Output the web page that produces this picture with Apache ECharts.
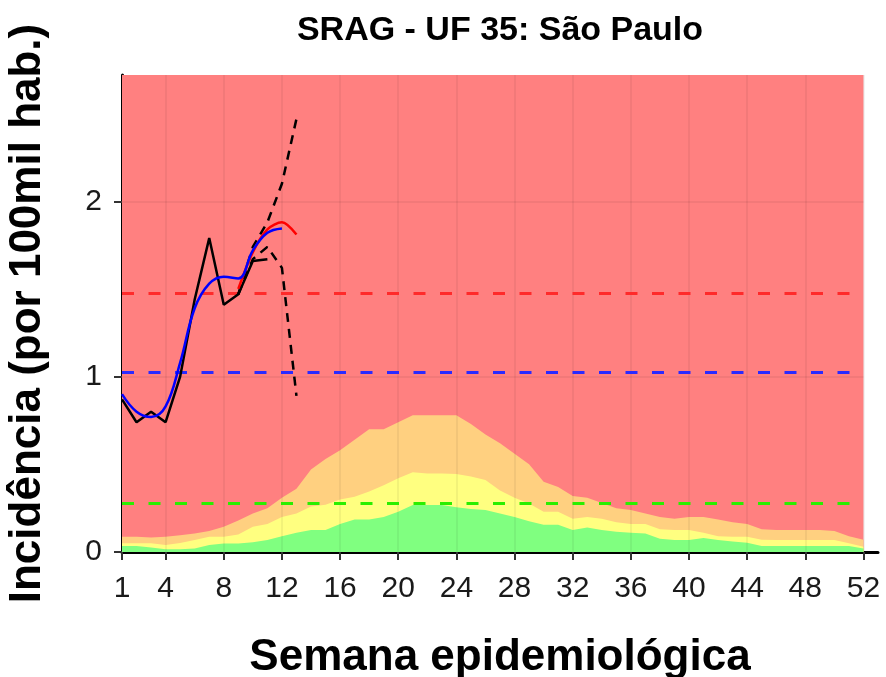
<!DOCTYPE html>
<html>
<head>
<meta charset="utf-8">
<title>SRAG - UF 35: São Paulo</title>
<script src="https://cdn.jsdelivr.net/npm/echarts@6/dist/echarts.min.js"></script>
<style>
  html, body { margin: 0; padding: 0; background: #fff; }
  #chart { width: 886px; height: 677px; }
</style>
</head>
<body>
<div id="chart"></div>
<script>
// eixo x: semanas epidemiológicas
const semanas = Array.from({ length: 52 }, (_, i) => i + 1)
const xTicks = [1, 4, 8, 12, 16, 20, 24, 28, 32, 36, 40, 44, 48, 52]
const yTicks = [0, 1, 2]
const yMax = 2.72

// faixas históricas (limite superior de cada faixa)
const faixaVerde = [
  0.034, 0.034, 0.025, 0.015, 0.015, 0.02, 0.04, 0.049, 0.049, 0.055,
  0.068, 0.09, 0.11, 0.125, 0.125, 0.16, 0.186, 0.186, 0.2, 0.23,
  0.268, 0.268, 0.268, 0.255, 0.245, 0.24, 0.22, 0.2, 0.175, 0.155,
  0.155, 0.125, 0.14, 0.125, 0.115, 0.11, 0.105, 0.075, 0.068, 0.068,
  0.08, 0.068, 0.06, 0.053, 0.034, 0.034, 0.034, 0.034, 0.034, 0.034, 0.034, 0.02
]
const faixaAmarela = [
  0.05, 0.05, 0.05, 0.04, 0.052, 0.068, 0.087, 0.087, 0.1, 0.144,
  0.16, 0.2, 0.22, 0.26, 0.27, 0.3, 0.315, 0.345, 0.38, 0.42,
  0.455, 0.448, 0.448, 0.445, 0.43, 0.41, 0.35, 0.31, 0.277, 0.23,
  0.23, 0.19, 0.2, 0.19, 0.17, 0.16, 0.16, 0.13, 0.125, 0.125,
  0.11, 0.09, 0.087, 0.087, 0.07, 0.068, 0.068, 0.068, 0.068, 0.068, 0.05, 0.03
]
const faixaLaranja = [
  0.087, 0.087, 0.082, 0.087, 0.095, 0.106, 0.12, 0.144, 0.18, 0.22,
  0.25, 0.31, 0.36, 0.47, 0.53, 0.58, 0.64, 0.7, 0.7, 0.74,
  0.78, 0.78, 0.78, 0.78, 0.73, 0.67, 0.62, 0.56, 0.5, 0.4,
  0.37, 0.32, 0.31, 0.28, 0.25, 0.24, 0.22, 0.2, 0.19, 0.2,
  0.2, 0.185, 0.17, 0.16, 0.13, 0.125, 0.125, 0.125, 0.125, 0.12, 0.09, 0.07
]

// limiares
const limiares = [
  { valor: 0.277, cor: '#2aee00' },
  { valor: 1.025, cor: '#2a2aff' },
  { valor: 1.475, cor: '#ff2a2a' }
]

// dados observados (preto)
const semanasObs = [1, 2, 3, 4, 5, 6, 7, 8, 9, 10, 11]
const incidObs = [0.87, 0.74, 0.8, 0.74, 1.0, 1.44, 1.79, 1.41, 1.47, 1.66, 1.67]

// tendência (azul)
const semanasTend = [1, 2, 3, 4, 5, 6, 7, 8, 9, 10, 11, 12]
const incidTend = [0.9, 0.8, 0.77, 0.83, 1.08, 1.39, 1.53, 1.57, 1.56, 1.72, 1.82, 1.845]

// estimado (vermelho) e intervalo (tracejado)
const semanasEst = [9, 10, 11, 12, 13]
const incidEst = [1.5, 1.71, 1.84, 1.88, 1.81]
const icSup = [1.47, 1.74, 1.88, 2.1, 2.47]
const icInf = [1.47, 1.67, 1.74, 1.62, 0.89]

const pares = (xs, ys) => xs.map((x, i) => [x, ys[i]])

const fonte = 'Liberation Sans, Arial, sans-serif'

const chart = echarts.init(document.getElementById('chart'))

function faixa(nome, valores, cor, z) {
  return {
    name: nome,
    type: 'line',
    data: pares(semanas, valores),
    symbol: 'none',
    lineStyle: { width: 0 },
    areaStyle: { color: cor, opacity: 1 },
    z: z,
    silent: true
  }
}

function linha(nome, xs, ys, cor, tipo, suave, z) {
  return {
    name: nome,
    type: 'line',
    data: pares(xs, ys),
    symbol: 'none',
    smooth: suave,
    lineStyle: { color: cor, width: 2.5, type: tipo },
    z: z,
    silent: true
  }
}

const option = {
  animation: false,
  backgroundColor: '#fff',
  title: {
    text: 'SRAG - UF 35: São Paulo',
    left: 495,
    top: 9,
    textAlign: 'center',
    textStyle: { fontFamily: fonte, fontSize: 34, fontWeight: 'bold', color: '#000' }
  },
  grid: { left: 122, right: 8, top: 75, bottom: 125, outerBoundsMode: 'none' },
  xAxis: {
    type: 'value',
    min: 1,
    max: 53,
    name: 'Semana epidemiológica',
    nameLocation: 'middle',
    nameGap: 84,
    nameTextStyle: { fontFamily: fonte, fontSize: 44, fontWeight: 'bold', color: '#000' },
    axisLine: { lineStyle: { color: '#000', width: 3 } },
    axisTick: { customValues: xTicks, length: 8, lineStyle: { color: '#333', width: 2 } },
    axisLabel: { customValues: xTicks, fontFamily: fonte, fontSize: 30, color: '#1a1a1a', margin: 22 },
    splitLine: { show: false }
  },
  yAxis: {
    type: 'value',
    min: 0,
    max: yMax,
    name: 'Incidência (por 100mil hab.)',
    nameLocation: 'middle',
    nameGap: 72,
    nameTextStyle: { fontFamily: fonte, fontSize: 44, fontWeight: 'bold', color: '#000' },
    axisLine: { show: true, lineStyle: { color: '#000', width: 3 } },
    axisTick: { show: true, customValues: yTicks, length: 8, lineStyle: { color: '#333', width: 2 } },
    axisLabel: { customValues: yTicks, fontFamily: fonte, fontSize: 30, color: '#1a1a1a', margin: 20 },
    splitLine: { show: false }
  },
  series: [
    {
      name: 'fundo',
      type: 'line',
      data: [],
      z: 1,
      silent: true,
      markArea: {
        silent: true,
        itemStyle: { color: '#ff8080', opacity: 1 },
        data: [[{ xAxis: 1, yAxis: 0 }, { xAxis: 52, yAxis: yMax }]]
      }
    },
    faixa('Alta', faixaLaranja, '#ffd080', 2),
    faixa('Moderada', faixaAmarela, '#ffff80', 3),
    faixa('Baixa', faixaVerde, '#80ff80', 4),
    {
      name: 'grade',
      type: 'line',
      data: [],
      z: 5,
      silent: true,
      markLine: {
        silent: true,
        symbol: 'none',
        label: { show: false },
        lineStyle: { color: 'rgba(0,0,0,0.05)', width: 2, type: 'solid' },
        data: xTicks.slice(1).map(x => [{ coord: [x, 0] }, { coord: [x, yMax] }])
          .concat(yTicks.slice(1).map(y => [{ coord: [1, y] }, { coord: [52, y] }]))
      }
    },
    {
      name: 'limiares',
      type: 'line',
      data: [],
      z: 6,
      silent: true,
      markLine: {
        silent: true,
        symbol: 'none',
        label: { show: false },
        data: limiares.map(l => [
          { coord: [1, l.valor], lineStyle: { color: l.cor, width: 3, type: [12, 14.5] } },
          { coord: [52, l.valor] }
        ])
      }
    },
    linha('Observado', semanasObs, incidObs, '#000', 'solid', false, 7),
    linha('IC superior', semanasEst, icSup, '#000', [9, 7], false, 7),
    linha('IC inferior', semanasEst, icInf, '#000', [9, 7], false, 7),
    linha('Estimado', semanasEst, incidEst, '#ff0000', 'solid', 0.3, 8),
    linha('Tendência', semanasTend, incidTend, '#0000ff', 'solid', 0.4, 9)
  ]
}

chart.setOption(option)
</script>
</body>
</html>
